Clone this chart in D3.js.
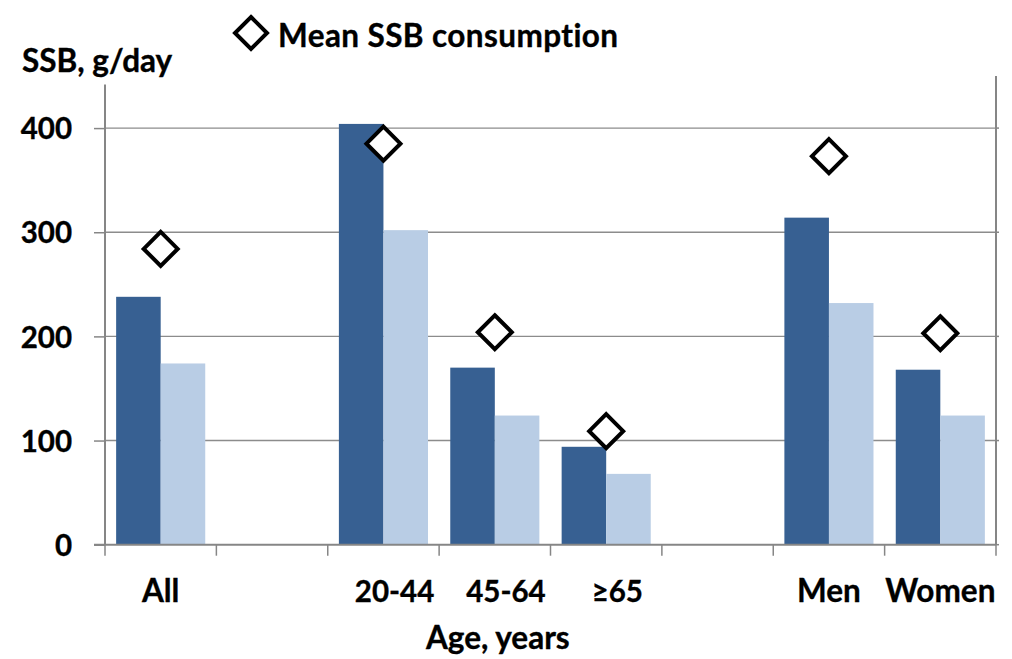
<!DOCTYPE html>
<html>
<head>
<meta charset="utf-8">
<script src="https://cdn.jsdelivr.net/npm/d3@7"></script>
<style>
  html, body { margin: 0; padding: 0; background: #fff; }
  svg { display: block; }
  text { font-family: Lato, "Open Sans", sans-serif; font-weight: 700; fill: #000;
         stroke: #000; stroke-width: 0.35px; font-variant-ligatures: none; }
</style>
</head>
<body>
<svg id="chart" width="1012" height="659"></svg>
<script>
// Category slots along the x axis (empty strings are spacer slots)
const categories = ["All", "", "20-44", "45-64", "≥65", "", "Men", "Women"];
// Which slots belong to the age breakdown
const ageGroups = ["20-44", "45-64", "≥65"];
// Bar series, g/day
const barsDark  = [238, null, 404, 170, 94, null, 314, 168];
const barsLight = [174, null, 302, 124, 68, null, 232, 124];
// Mean SSB consumption, g/day
const meanSSB   = [284, null, 385, 204, 109, null, 373, 203];
// Y axis ticks
const yTicks = [0, 100, 200, 300, 400];
const yMax = 450;

const svg = d3.select("#chart");
const plotLeft = 105, plotRight = 996, plotTop = 76, plotBottom = 544.7;
const digitFont = 29.5, wordFont = 31.5;

const x = d3.scaleBand().domain(d3.range(categories.length)).range([plotLeft, plotRight]).padding(0);
const inner = d3.scaleBand().domain(["dark", "light"]).range([x.bandwidth() * 0.1, x.bandwidth() * 0.9]).padding(0);
const y = d3.scaleLinear().domain([0, yMax]).range([plotBottom, plotTop]);

const axisGrey = "#868686";

// Horizontal gridlines
svg.append("g")
  .selectAll("line")
  .data(yTicks.filter(d => d > 0))
  .join("line")
  .attr("x1", plotLeft).attr("x2", plotRight)
  .attr("y1", d => y(d)).attr("y2", d => y(d))
  .attr("stroke", "#8c8c8c").attr("stroke-width", 1.4);

// Bars
const rows = categories.map((c, i) => ({ i, c, dark: barsDark[i], light: barsLight[i], mean: meanSSB[i] }))
  .filter(r => r.dark != null);

const barColors = { dark: "#376092", light: "#B9CDE5" };
const barG = svg.append("g");
rows.forEach(r => {
  ["dark", "light"].forEach(k => {
    barG.append("rect")
      .attr("x", x(r.i) + inner(k))
      .attr("width", inner.bandwidth())
      .attr("y", y(r[k]))
      .attr("height", y(0) - y(r[k]))
      .attr("fill", barColors[k]);
  });
});

// Y axis (left) with ticks and labels
const yAxis = d3.axisLeft(y).tickValues(yTicks).tickSize(11).tickPadding(22).tickFormat(d3.format("d"));
const yg = svg.append("g").attr("transform", `translate(${plotLeft},0)`).call(yAxis);
yg.select(".domain").remove();
yg.selectAll(".tick line").attr("stroke", axisGrey).attr("stroke-width", 1.5);
yg.selectAll(".tick text").attr("font-size", digitFont).attr("font-family", "Lato, sans-serif")
  .attr("font-weight", 700).attr("fill", "#000").attr("dy", "0.36em");

// Small outer ticks on the right axis
svg.append("g").selectAll("line").data(yTicks).join("line")
  .attr("x1", plotRight).attr("x2", plotRight + 3)
  .attr("y1", d => y(d)).attr("y2", d => y(d))
  .attr("stroke", axisGrey).attr("stroke-width", 1.5);

// Axis frame lines
svg.append("line").attr("x1", plotLeft).attr("x2", plotLeft).attr("y1", y(yMax)).attr("y2", y(0))
  .attr("stroke", axisGrey).attr("stroke-width", 2);
svg.append("line").attr("x1", plotRight).attr("x2", plotRight).attr("y1", y(yMax)).attr("y2", y(0))
  .attr("stroke", axisGrey).attr("stroke-width", 2);
svg.append("line").attr("x1", plotLeft - 11).attr("x2", plotRight).attr("y1", y(0)).attr("y2", y(0))
  .attr("stroke", axisGrey).attr("stroke-width", 2);

// X axis ticks at slot boundaries
const bounds = d3.range(categories.length + 1).map(i => plotLeft + i * x.bandwidth());
svg.append("g").selectAll("line").data(bounds).join("line")
  .attr("x1", d => d).attr("x2", d => d)
  .attr("y1", y(0)).attr("y2", y(0) + 11)
  .attr("stroke", axisGrey).attr("stroke-width", 1.5);

// Category labels (age labels sit slightly right of their slot centres)
const ageShift = x.bandwidth() * 0.1;
svg.append("g").selectAll("text").data(categories.map((c, i) => ({ c, i })).filter(d => d.c))
  .join("text")
  .attr("x", d => x(d.i) + x.bandwidth() / 2 + (ageGroups.includes(d.c) ? ageShift : 0))
  .attr("y", 601.5)
  .attr("text-anchor", "middle")
  .attr("font-size", d => /^[A-Za-z]/.test(d.c) ? wordFont : digitFont)
  .text(d => d.c);

// Mean markers (diamonds)
const diamond = (cx, cy, r) => `M${cx},${cy - r}L${cx + r},${cy}L${cx},${cy + r}L${cx - r},${cy}Z`;
svg.append("g").selectAll("path").data(rows).join("path")
  .attr("d", d => diamond(x(d.i) + x.bandwidth() / 2, y(d.mean), 17))
  .attr("fill", "#fff").attr("stroke", "#000").attr("stroke-width", 4)
  .attr("stroke-linejoin", "miter");

// Y axis title with its white backing box
const yTitle = svg.append("text").attr("x", 22).attr("y", 71.5).attr("font-size", wordFont).text("SSB, g/day");
const bb = yTitle.node().getBBox();
svg.insert("rect", () => yTitle.node())
  .attr("x", bb.x - 4).attr("y", bb.y - 2).attr("width", bb.width + 8).attr("height", bb.height + 8)
  .attr("fill", "#fff");

// X axis title centred under the age groups
const ageIdx = ageGroups.map(a => categories.indexOf(a));
const ageCenter = (x(ageIdx[0]) + x(ageIdx[ageIdx.length - 1]) + x.bandwidth()) / 2;
svg.append("text").attr("x", ageCenter + 3).attr("y", 649).attr("text-anchor", "middle")
  .attr("font-size", wordFont).text("Age, years");

// Legend
svg.append("path").attr("d", diamond(251, 33, 16))
  .attr("fill", "#fff").attr("stroke", "#000").attr("stroke-width", 4);
svg.append("text").attr("x", 278).attr("y", 47).attr("font-size", wordFont)
  .attr("letter-spacing", 0.4).text("Mean SSB consumption");
</script>
</body>
</html>
